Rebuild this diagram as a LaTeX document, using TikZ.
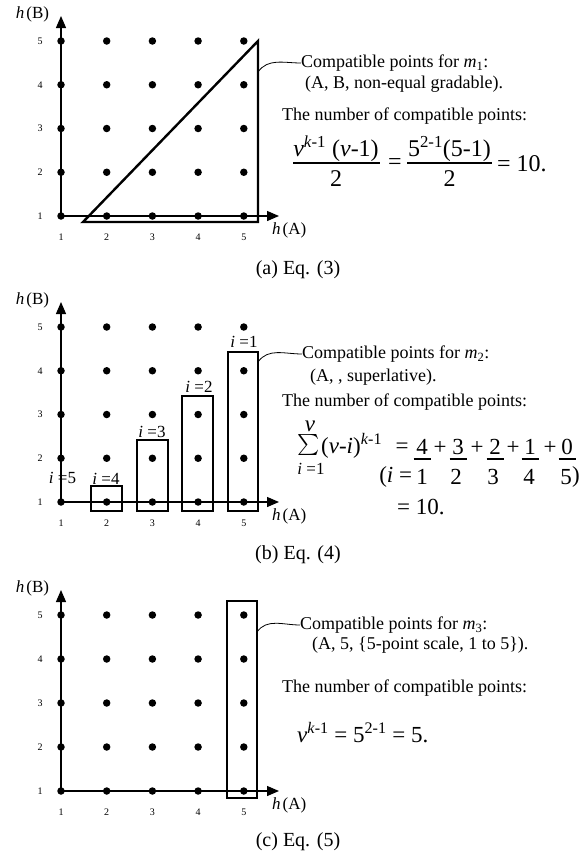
\documentclass[tikz,border=0pt]{standalone}
\usepackage{fontspec}
\setmainfont{Liberation Serif}
\usetikzlibrary{arrows.meta}
\newcommand\gridpanel[3]{%
  \coordinate (#1O) at (61,#2);
  \coordinate (#1Y) at (61,{#2-4*#3-25});
  \coordinate (#1X) at (279,#2);
  \draw[axisline] (#1O) -- (#1Y);
  \draw[axisline] (#1O) -- (#1X);
  \foreach \i in {1,...,5}{
    \foreach \j in {1,...,5}{
      \node[gdot] (#1\i\j) at ({61+45.7*(\i-1)},{#2-#3*(\j-1)}) {};
    }
    \node[ticklbl] (#1l\i) at (40,{#2-#3*(\i-1)}) {\i};
    \node[ticklbl] (#1b\i) at ({61+45.7*(\i-1)},{#2+21}) {\i};
  }
  \node[axlbl] (#1hB) at (33,{#2-4*#3-27}) {\textit{h}\kern2pt(B)\kern1pt};
  \node[axlbl,anchor=west] (#1hA) at (272,{#2+14}) {\textit{h}\kern2pt(A)};
}
\begin{document}
\begin{tikzpicture}[x=1pt,y=-1pt,
  gdot/.style={circle,fill=black,inner sep=0pt,minimum size=7.5pt},
  axisline/.style={line width=1.3pt,-{Triangle[length=12pt,width=10pt]}},
  bigbox/.style={line width=2.4pt},
  callout/.style={line width=0.8pt},
  ticklbl/.style={font=\fontsize{10}{12}\selectfont,inner sep=0pt},
  axlbl/.style={font=\fontsize{17}{19}\selectfont,inner sep=0pt},
  txt/.style={font=\fontsize{18}{20}\selectfont,inner sep=0pt,anchor=west},
  frm/.style={font=\fontsize{24}{26}\selectfont,inner sep=0pt},
  frmb/.style={font=\fontsize{23}{25}\selectfont,inner sep=0pt},
  ilbl/.style={font=\fontsize{17}{19}\selectfont,inner sep=0pt},
  captxt/.style={font=\fontsize{20}{22}\selectfont,inner sep=0pt},
  fbar/.style={line width=1.8pt}
]
\useasboundingbox (0,0) rectangle (585,857);

% ---------------- (a)
\gridpanel{a}{216}{43.75}
\coordinate (aT1) at (83,222);
\coordinate (aT2) at (258,41);
\coordinate (aT3) at (258,222);
\draw[bigbox,line join=miter] (aT1) -- (aT2) -- (aT3) -- cycle;
\coordinate (aC) at (258,72);
\node[txt] (at1) at (301,63) {Compatible points for \textit{m}\textsubscript{1}:};
\draw[callout] (aC) to[out=55,in=180] (at1.west);
\node[txt] (at2) at (305,84) {(A, B, non-equal gradable).};
\node[txt] (at3) at (282,116) {The number of compatible points:};
\node[frm] (an1) at (336,149) {\textit{v}\textsuperscript{\textit{k}-1} (\textit{v}-1)};
\node[frm] (ad1) at (336,179) {2};
\draw[fbar] (293,163) -- (380,163);
\node[frm] (aeq1) at (395,164) {=};
\node[frm] (an2) at (449.5,149) {5\textsuperscript{2-1}(5-1)};
\node[frm] (ad2) at (449.5,179) {2};
\draw[fbar] (407,163) -- (492,163);
\node[frm,anchor=west] (aeq2) at (497,164) {= 10.};
\node[captxt] (acap) at (298,270) {(a) Eq. (3)};

% ---------------- (b)
\gridpanel{b}{502}{43.75}
\draw[bigbox] (91,486) rectangle (122,511);
\draw[bigbox] (137,440) rectangle (168,511);
\draw[bigbox] (182,396) rectangle (213,511);
\draw[bigbox] (228,352) rectangle (258,511);
\node[ilbl] (bi1) at (244,342) {\textit{i} =1};
\node[ilbl] (bi2) at (199,387) {\textit{i} =2};
\node[ilbl] (bi3) at (152,432) {\textit{i} =3};
\node[ilbl] (bi4) at (106,479) {\textit{i} =4};
\node[ilbl] (bi5) at (62.5,478) {\textit{i} =5};
\coordinate (bC) at (258,362);
\node[txt] (bt1) at (302,354) {Compatible points for \textit{m}\textsubscript{2}:};
\draw[callout] (bC) to[out=55,in=180] (bt1.west);
\node[txt] (bt2) at (310,377) {(A, , superlative).};
\node[txt] (bt3) at (282,402) {The number of compatible points:};
\node[frmb] (bsv) at (310,426) {\textit{v}};
\node[inner sep=0pt] (bsum) at (308.5,445) {\scalebox{2.1}{$\sum$}};
\node[frmb,anchor=west] (bsx) at (321,446) {(\textit{v}-\textit{i})\textsuperscript{\textit{k}-1}};
\node[ilbl] (bsi) at (311,469) {\textit{i} =1};
\node[frmb] (beq) at (402,448) {=};
\foreach \n/\x/\b in {4/422/1,3/458/2,2/495/3,1/530/4,0/567/5}{
  \node[frmb] (bn\b) at (\x,447) {\n};
  \draw[fbar] ({\x-8.5},459) -- ({\x+8.5},459);
}
\foreach \x/\k in {440/1,477/2,513/3,550/4}{
  \node[frmb] (bp\k) at (\x,448) {+};
}
\node[frmb] (bd1) at (422,477) {1};
\node[frmb,anchor=east] (bdl) at (bd1.west) {(\textit{i} =\,};
\node[frmb] (bd2) at (456,477) {2};
\node[frmb] (bd3) at (493,477) {3};
\node[frmb] (bd4) at (529,477) {4};
\node[frmb] (bd5) at (566,477) {5};
\node[frmb,anchor=west] (bdr) at (bd5.east) {)};
\node[frmb,anchor=west] (beq2) at (397,507) {= 10.};
\node[captxt] (bcap) at (298,555) {(b) Eq. (4)};

% ---------------- (c)
\gridpanel{c}{791}{44}
\draw[bigbox] (227,601) rectangle (257,798);
\coordinate (cC) at (257,632);
\node[txt] (ct1) at (300,625) {Compatible points for \textit{m}\textsubscript{3}:};
\draw[callout] (cC) to[out=55,in=180] (ct1.west);
\node[txt] (ct2) at (312,645) {(A, 5, \{5-point scale, 1 to 5\}).};
\node[txt] (ct3) at (282,688) {The number of compatible points:};
\node[frmb,anchor=west] (cf) at (297,733) {\textit{v}\textsuperscript{\textit{k}-1} = 5\textsuperscript{2-1} = 5.};
\node[captxt] (ccap) at (298,842) {(c) Eq. (5)};
\end{tikzpicture}
\end{document}
